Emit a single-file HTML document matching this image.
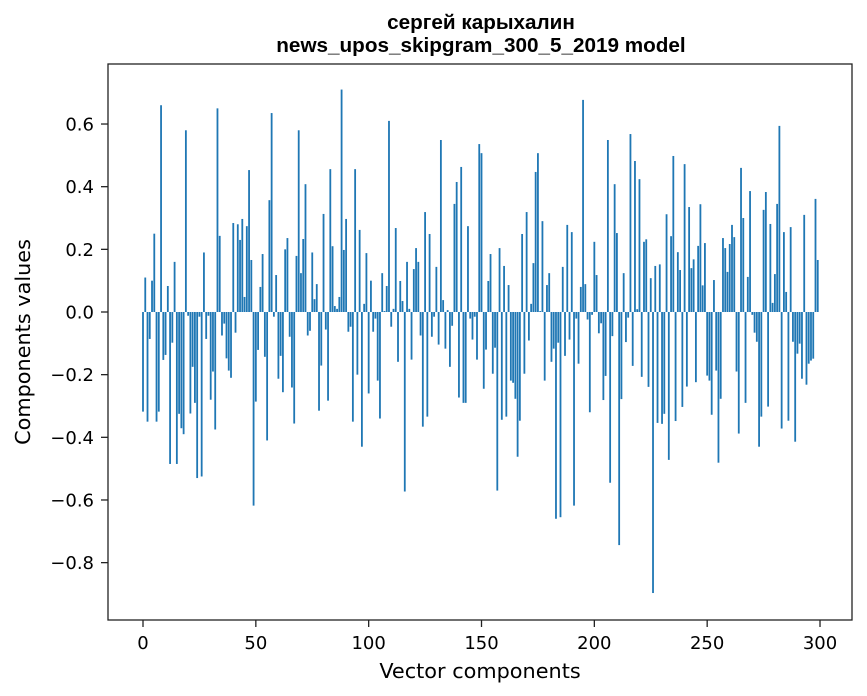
<!DOCTYPE html>
<html><head><meta charset="utf-8"><style>
html,body{margin:0;padding:0;background:#fff;}
svg{display:block;font-family:"DejaVu Sans","Liberation Sans",sans-serif;}
</style></head><body>
<svg id="chart" width="867" height="696" viewBox="0 0 867 696" xmlns="http://www.w3.org/2000/svg">
<rect x="0" y="0" width="867" height="696" fill="#fff"/>
<text x="481" y="29" text-anchor="middle" font-size="20.7" font-weight="bold" font-family="Liberation Sans, sans-serif">сергей карыхалин</text>
<text x="481" y="52" text-anchor="middle" font-size="20.7" font-weight="bold" font-family="Liberation Sans, sans-serif">news_upos_skipgram_300_5_2019 model</text>
<g id="bars"></g>
<g id="xticks"></g>
<g id="yticks"></g>
<rect x="108" y="64" width="744" height="556" fill="none" stroke="#222" stroke-width="1.3"/>
<text x="480" y="678" text-anchor="middle" font-size="20.8">Vector components</text>
<text transform="translate(30,342) rotate(-90)" text-anchor="middle" font-size="20.8">Components values</text>
</svg>
<script>
const values = [
-0.318,0.11,-0.35,-0.086,0.10,0.25,-0.35,-0.318,0.66,-0.153,
-0.137,0.083,-0.485,-0.098,0.16,-0.485,-0.325,-0.371,-0.39,0.58,
-0.012,-0.324,-0.175,-0.29,-0.53,-0.015,-0.525,0.19,-0.086,-0.012,
-0.28,-0.19,-0.375,0.65,0.243,-0.075,-0.037,-0.148,-0.187,-0.21,
0.284,-0.066,0.28,0.23,0.297,0.048,0.274,0.453,0.166,-0.618,
-0.286,-0.121,0.08,0.185,-0.143,-0.41,0.357,0.635,-0.015,0.118,
-0.213,-0.14,-0.256,0.2,0.236,-0.079,-0.241,-0.356,0.179,0.58,
0.124,0.233,0.408,-0.075,-0.06,0.19,0.041,0.089,-0.315,-0.171,
0.313,-0.056,-0.283,0.456,0.21,0.019,0.01,0.048,0.71,0.198,
0.297,-0.063,-0.047,-0.35,0.456,-0.2,0.262,-0.43,0.026,0.188,
-0.26,0.10,-0.063,-0.021,-0.219,-0.34,0.124,0.003,0.083,0.61,
-0.047,0.01,0.268,-0.159,0.099,0.035,-0.573,0.16,0.01,-0.152,
0.137,0.204,0.16,-0.075,-0.366,0.319,-0.334,0.249,-0.079,-0.015,
0.144,-0.104,0.549,0.038,-0.117,0.006,-0.175,-0.044,0.345,0.415,
-0.273,0.463,-0.29,-0.29,0.274,-0.021,-0.088,-0.015,-0.152,0.536,
0.507,-0.245,-0.12,0.099,0.185,-0.197,-0.114,-0.57,0.204,-0.344,
0.147,-0.334,0.086,-0.219,-0.226,-0.277,-0.462,-0.347,0.249,-0.197,
0.319,-0.091,0.026,0.156,0.447,0.507,0.003,0.29,-0.219,0.086,
0.124,-0.159,-0.117,-0.66,-0.098,-0.655,0.144,-0.14,0.278,-0.088,
0.255,-0.618,-0.021,-0.165,0.08,0.677,0.089,-0.024,-0.32,-0.009,
0.224,0.118,-0.068,-0.036,-0.281,-0.204,0.549,-0.545,-0.077,0.408,
0.252,-0.744,-0.278,0.124,-0.096,-0.018,0.568,-0.172,0.482,0.009,
0.424,-0.207,0.224,0.232,-0.239,0.108,-0.897,0.147,-0.354,0.152,
-0.357,-0.325,0.312,-0.472,0.242,0.498,-0.348,0.191,0.134,-0.303,
0.472,-0.238,0.335,0.14,0.168,-0.224,0.211,0.344,0.085,0.22,
-0.203,-0.219,-0.328,0.102,-0.187,-0.481,-0.277,0.236,0.204,0.128,
0.217,0.278,0.239,-0.19,-0.388,0.46,0.3,-0.29,0.112,0.386,
-0.009,-0.066,-0.095,-0.43,-0.334,0.326,0.383,-0.302,0.281,0.029,
0.121,0.345,0.594,-0.372,0.255,0.064,-0.347,0.271,-0.095,-0.414,
-0.133,-0.101,-0.213,0.31,-0.232,-0.165,-0.155,-0.149,0.361,0.166
];
const xTicks = [0,50,100,150,200,250,300];
const yTicks = [-0.8,-0.6,-0.4,-0.2,0.0,0.2,0.4,0.6];
const yTickLabels = ["\u22120.8","\u22120.6","\u22120.4","\u22120.2","0.0","0.2","0.4","0.6"];

const NS = "http://www.w3.org/2000/svg";
const X0 = 143, XS = 2.2567, Y0 = 312, YS = 313.3;
function xs(v){ return X0 + v*XS; }
function ys(v){ return Y0 - v*YS; }

const barsG = document.getElementById('bars');
values.forEach((v,i)=>{
  const r = document.createElementNS(NS,'rect');
  const w = 0.8*XS;
  r.setAttribute('x', xs(i)-w/2);
  r.setAttribute('width', w);
  r.setAttribute('y', Math.min(ys(v), ys(0)));
  r.setAttribute('height', Math.abs(ys(v)-ys(0)));
  r.setAttribute('fill', '#1f77b4');
  
  
  barsG.appendChild(r);
});

const xg = document.getElementById('xticks');
xTicks.forEach(t=>{
  const l = document.createElementNS(NS,'line');
  l.setAttribute('x1', xs(t)); l.setAttribute('x2', xs(t));
  l.setAttribute('y1', 620); l.setAttribute('y2', 627);
  l.setAttribute('stroke','#222'); l.setAttribute('stroke-width','1.3');
  
  
  xg.appendChild(l);
  const tx = document.createElementNS(NS,'text');
  tx.setAttribute('x', xs(t)); tx.setAttribute('y', 649);
  tx.setAttribute('text-anchor','middle'); tx.setAttribute('font-size','18');
  tx.textContent = String(t);
  
  
  xg.appendChild(tx);
});

const yg = document.getElementById('yticks');
yTicks.forEach((t,i)=>{
  const l = document.createElementNS(NS,'line');
  l.setAttribute('x1', 101); l.setAttribute('x2', 108);
  l.setAttribute('y1', ys(t)); l.setAttribute('y2', ys(t));
  l.setAttribute('stroke','#222'); l.setAttribute('stroke-width','1.3');
  
  
  yg.appendChild(l);
  const tx = document.createElementNS(NS,'text');
  tx.setAttribute('x', 94); tx.setAttribute('y', ys(t)+6.5);
  tx.setAttribute('text-anchor','end'); tx.setAttribute('font-size','18');
  tx.textContent = yTickLabels[i];
  
  
  yg.appendChild(tx);
});
</script>
</body></html>
